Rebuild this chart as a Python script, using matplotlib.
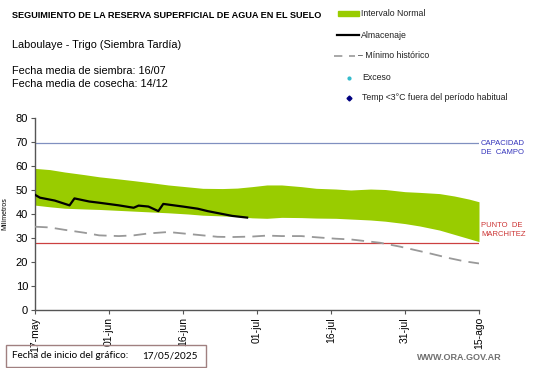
import matplotlib.pyplot as plt
import numpy as np
from matplotlib.lines import Line2D
from matplotlib.patches import Rectangle

plt.rcParams['font.family'] = ['Liberation Sans', 'DejaVu Sans']

start = np.datetime64('2025-05-17')

# intervalo normal (days since start)
band_days = [0, 3, 6, 10, 13, 17, 20, 24, 27, 31, 34, 38, 41, 44, 47, 50, 54, 57,
             61, 64, 68, 71, 75, 78, 82, 85, 88, 90]
band_upper = [59.0, 58.5, 57.5, 56.4, 55.5, 54.6, 53.9, 52.9, 52.1, 51.3, 50.7, 50.6,
              50.8, 51.4, 52.1, 52.1, 51.4, 50.7, 50.4, 50.0, 50.4, 50.2, 49.3, 49.0,
              48.5, 47.5, 46.2, 45.1]
band_lower = [43.7, 43.0, 42.4, 42.1, 41.9, 41.5, 41.2, 40.8, 40.5, 40.0, 39.5, 39.2,
              38.9, 38.4, 38.2, 38.6, 38.5, 38.3, 38.2, 37.9, 37.5, 37.0, 36.0, 35.0,
              33.3, 31.5, 29.7, 28.5]

# almacenaje
alm_days = [0, 1, 4, 7, 8, 11, 13, 17, 20, 21, 23, 25, 26, 30, 33, 35, 38, 40, 43]
alm_vals = [48.0, 46.8, 45.6, 43.6, 46.5, 45.2, 44.7, 43.6, 42.6, 43.5, 43.1, 41.2,
            44.2, 43.1, 42.2, 41.2, 40.0, 39.2, 38.5]

# minimo historico
min_days = [0, 3, 6, 10, 13, 17, 20, 23, 27, 30, 33, 37, 40, 44, 47, 50, 54, 57, 61,
            64, 67, 70, 74, 77, 80, 84, 87, 90]
min_vals = [34.7, 34.4, 33.4, 32.2, 31.1, 30.8, 31.1, 31.9, 32.5, 31.9, 31.3, 30.5,
            30.4, 30.6, 31.0, 30.8, 30.8, 30.3, 29.7, 29.4, 28.7, 28.0, 26.4, 25.0,
            23.6, 21.6, 20.3, 19.4]

capacidad = 69.5
marchitez = 28.0

tick_days = [0, 15, 30, 45, 60, 75, 90]
tick_labels = ['17-may', '01-jun', '16-jun', '01-jul', '16-jul', '31-jul', '15-ago']


def to_dates(days):
    return start + np.array(days).astype('timedelta64[D]')


W, H = 541, 368
fig = plt.figure(figsize=(W / 100, H / 100), dpi=100)
ax = fig.add_axes([35 / W, 1 - 310 / H, (479 - 35) / W, (310 - 118) / H])

bd = to_dates(band_days)
ax.fill_between(bd, band_lower, band_upper, color='#99cc00', linewidth=0, zorder=2)
ax.plot(to_dates(min_days), min_vals, color='#999999', lw=1.3, ls=(0, (7, 4)), zorder=3)
ax.plot(to_dates(alm_days), alm_vals, color='black', lw=1.6, zorder=4)

x0, x1 = to_dates([0, 90])
ax.hlines(capacidad, x0, x1, color='#8090c0', lw=0.9, zorder=1)
ax.hlines(marchitez, x0, x1, color='#cc4040', lw=0.9, zorder=1)

ax.set_xlim(x0, x1)
ax.set_ylim(0, 80)
ax.set_yticks(range(0, 81, 10))
ax.set_xticks(to_dates(tick_days))
ax.set_xticklabels(tick_labels, rotation=90, fontsize=7.5)
ax.tick_params(axis='y', labelsize=8, length=3, width=0.8, color='#555555', pad=2)
ax.tick_params(axis='x', length=3, width=0.8, color='#555555', pad=2)
for s in ['top', 'right']:
    ax.spines[s].set_visible(False)
for s in ['left', 'bottom']:
    ax.spines[s].set_color('#555555')
    ax.spines[s].set_linewidth(1.0)
ax.set_ylabel('Milímetros', fontsize=5, labelpad=5)

# right side labels
fig.text(481 / W, 1 - 148 / H, 'CAPACIDAD\nDE  CAMPO', color='#3333bb', fontsize=5.5,
         va='center', ha='left', linespacing=1.3)
fig.text(481 / W, 1 - 230 / H, 'PUNTO  DE\nMARCHITEZ', color='#cc3333', fontsize=5.5,
         va='center', ha='left', linespacing=1.3)

# titles
fig.text(12 / W, 1 - 15 / H, 'SEGUIMIENTO DE LA RESERVA SUPERFICIAL DE AGUA EN EL SUELO',
         fontsize=6.6, fontweight='bold', va='center')
fig.text(12 / W, 1 - 45 / H, 'Laboulaye - Trigo (Siembra Tardía)', fontsize=7.8, va='center')
fig.text(12 / W, 1 - 71 / H, 'Fecha media de siembra: 16/07', fontsize=7.8, va='center')
fig.text(12 / W, 1 - 84 / H, 'Fecha media de cosecha: 14/12', fontsize=7.8, va='center')

# legend
fig.patches.append(Rectangle((338 / W, 1 - 16 / H), 21 / W, 5 / H, color='#99cc00',
                             transform=fig.transFigure, figure=fig))
fig.lines.append(Line2D([337 / W, 359 / W], [1 - 35 / H] * 2, color='black', lw=1.6,
                        transform=fig.transFigure))
fig.lines.append(Line2D([334 / W, 355 / W], [1 - 56 / H] * 2, color='#999999', lw=1.2,
                        ls=(0, (5, 4)), transform=fig.transFigure))
fig.lines.append(Line2D([349 / W], [1 - 78 / H], color='#33bbcc', marker='o', ms=2,
                        lw=0, transform=fig.transFigure))
fig.lines.append(Line2D([349 / W], [1 - 98 / H], color='#000080', marker='D', ms=2.5,
                        lw=0, transform=fig.transFigure))
leg_y = [13, 35, 56, 77, 98]
leg_txt = ['Intervalo Normal', 'Almacenaje', '– Mínimo histórico', 'Exceso',
           'Temp <3°C fuera del período habitual']
leg_x = [361, 361, 358, 362, 362]
for yy, tt, xx in zip(leg_y, leg_txt, leg_x):
    fig.text(xx / W, 1 - yy / H, tt, fontsize=6.3, va='center', color='#222222')

# bottom box
fig.patches.append(Rectangle((6 / W, 1 - 367 / H), 200 / W, 22 / H, fill=False,
                             edgecolor='#a08080', lw=1.0, transform=fig.transFigure,
                             figure=fig))
fig.text(12 / W, 1 - 356 / H, 'Fecha de inicio del gráfico:', fontsize=7.2,
         family=['Lato', 'DejaVu Sans'], va='center')
fig.text(142 / W, 1 - 356 / H, '17/05/2025', fontsize=7.2,
         family=['Lato', 'DejaVu Sans'], va='center')
fig.text(502 / W, 1 - 358 / H, 'WWW.ORA.GOV.AR', fontsize=6.5, fontweight='bold',
         color='#707070', ha='right', va='center')

fig.savefig('out.png', dpi=100)
